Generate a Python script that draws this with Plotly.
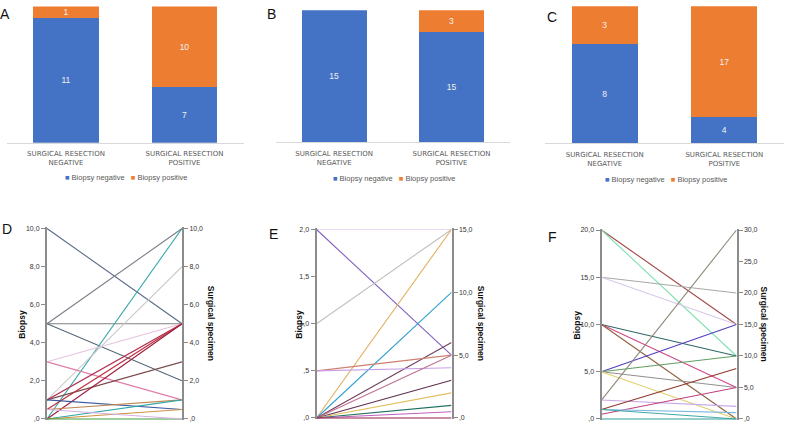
import plotly.graph_objects as go

# ---------------- data ----------------
categories = ["SURGICAL RESECTION<br>NEGATIVE", "SURGICAL RESECTION<br>POSITIVE"]
series_names = ["Biopsy negative", "Biopsy positive"]
series_colors = ["#4472C4", "#ED7D31"]

A_negative = [11, 7]
A_positive = [1, 10]
B_negative = [15, 15]
B_positive = [0, 3]
C_negative = [8, 4]
C_positive = [3, 17]

D_biopsy = [10, 5, 5, 5, 0, 1, 3, 3, 1, 1, 0.5, 0, 1, 0.5, 0, 0, 0, 0.5]
D_surgical = [5, 10, 5, 2, 10, 8, 5, 1, 3, 5, 5, 5, 0.5, 1, 1, 0.5, 0, 0]
D_colors = ["#5b6b8c", "#7d7d8a", "#808080", "#4c5e6e", "#3aa8a8", "#c8c8c8",
            "#e6c0dc", "#e07aa8", "#7a4a4a", "#b03050", "#c03040", "#a02040",
            "#3a5aa0", "#c08850", "#30a8a8", "#d09040", "#40a040", "#d8b0e0"]

E_biopsy = [2, 2, 1, 0, 0, 0, 0.5, 0.5, 0, 0, 0, 0, 0, 0]
E_surgical = [15, 5, 15, 15, 10, 6, 5, 4, 5, 3, 2, 1, 0.5, 0]
E_colors = ["#e8d8f0", "#8060c0", "#c0c0c0", "#e0b060", "#30a0d0", "#704060",
            "#d08070", "#c8a0e8", "#c07090", "#603050", "#e0c060", "#207060",
            "#c060c0", "#902040"]

F_biopsy = [20, 20, 15, 15, 10, 10, 10, 5, 5, 5, 5, 2, 2, 1, 0.5, 1, 1, 0]
F_surgical = [15, 10, 20, 15, 10, 5, 0, 15, 10, 5, 0, 30, 2, 8, 5, 1, 0, 0]
F_colors = ["#a04848", "#80e0b0", "#a8a8a8", "#d8c8e8", "#306868", "#d04888",
            "#906040", "#5040c0", "#60a060", "#909090", "#e0d070", "#908878",
            "#c8a8e8", "#903828", "#c04080", "#80b8e0", "#40a8a8", "#30a0a0"]

D_left_ticks = [0, 2, 4, 6, 8, 10]
D_left_text = [",0", "2,0", "4,0", "6,0", "8,0", "10,0"]
D_right_ticks = [0, 2, 4, 6, 8, 10]
D_right_text = [",0", "2,0", "4,0", "6,0", "8,0", "10,0"]
E_left_ticks = [0, 0.5, 1, 1.5, 2]
E_left_text = [",0", ",5", "1,0", "1,5", "2,0"]
E_right_ticks = [0, 5, 10, 15]
E_right_text = [",0", "5,0", "10,0", "15,0"]
F_left_ticks = [0, 5, 10, 15, 20]
F_left_text = [",0", "5,0", "10,0", "15,0", "20,0"]
F_right_ticks = [0, 5, 10, 15, 20, 25, 30]
F_right_text = [",0", "5,0", "10,0", "15,0", "20,0", "25,0", "30,0"]

panel_letters = ["A", "B", "C", "D", "E", "F"]
left_title = "Biopsy"
right_title = "Surgical specimen"

# ---------------- layout helpers ----------------
W, H = 789, 432


def px(x):
    return x / W


def py(y):
    return 1 - y / H


fig = go.Figure()

bar_panels = [
    (A_negative, A_positive, "x", "y", (6.75, 243.75), (4.5, 142.0)),
    (B_negative, B_positive, "x2", "y2", (275.5, 510.2), (8.3, 141.7)),
    (C_negative, C_positive, "x3", "y3", (544.9, 784.1), (4.3, 142.7)),
]
legend_pos = [(126, 177.5), (394, 178), (666, 179)]

layout = dict(
    width=W, height=H, margin=dict(l=0, r=0, t=0, b=0),
    paper_bgcolor="white", plot_bgcolor="white",
    barmode="stack", barnorm="fraction", bargap=0.445,
    showlegend=False,
    font=dict(family="Liberation Sans, Arial, sans-serif", color="#404040"),
)
annotations = []

for i, (neg, pos, xa, ya, xd, yd) in enumerate(bar_panels):
    for vals, name, col in zip([neg, pos], series_names, series_colors):
        fig.add_trace(go.Bar(
            x=categories, y=vals, name=name, marker=dict(color=col, line=dict(width=0)),
            text=[str(v) if v else "" for v in vals], textposition="inside",
            insidetextanchor="middle", textangle=0, constraintext="none",
            textfont=dict(color="#f2f2f2", size=8.5, family="Liberation Sans, Arial"),
            xaxis=xa, yaxis=ya, hoverinfo="skip"))
    xk = "xaxis" + ("" if i == 0 else str(i + 1))
    yk = "yaxis" + ("" if i == 0 else str(i + 1))
    layout[xk] = dict(domain=[px(xd[0]), px(xd[1])], anchor=ya, showline=True,
                      linecolor="#d9d9d9", linewidth=1, ticks="", showgrid=False,
                      ticklabelstandoff=4,
                      tickfont=dict(family="DejaVu Sans", size=7, color="#595959"))
    layout[yk] = dict(domain=[py(yd[1]), py(yd[0])], anchor=xa, range=[0, 1],
                      visible=False, showgrid=False, zeroline=False)
    lx, ly = legend_pos[i]
    leg_text = "   ".join(
        f"<span style='color:{c}'>■</span> {n}" for n, c in zip(series_names, series_colors))
    annotations.append(dict(text=leg_text, x=px(lx), y=py(ly), xref="paper", yref="paper",
                            showarrow=False, xanchor="center", yanchor="middle",
                            font=dict(size=7.5, color="#595959", family="Liberation Sans, Arial")))

line_panels = [
    (D_biopsy, D_surgical, D_colors, 10, 10, D_left_ticks, D_left_text, D_right_ticks, D_right_text,
     4, (47, 182), (227.5, 422), 22, 211),
    (E_biopsy, E_surgical, E_colors, 2, 15, E_left_ticks, E_left_text, E_right_ticks, E_right_text,
     5, (316.5, 451.5), (228.5, 421), 299, 481),
    (F_biopsy, F_surgical, F_colors, 20, 30, F_left_ticks, F_left_text, F_right_ticks, F_right_text,
     6, (601.5, 736.5), (229, 422), 577, 764),
]

yidx = 4
for (bio, sur, cols, lmax, rmax, lt, ltx, rt, rtx, xi, xd, yd, ltx_pos, rtx_pos) in line_panels:
    xa = f"x{xi}"
    yl = f"y{yidx}"
    yr = f"y{yidx + 1}"
    scale = lmax / rmax
    for b, s, c in zip(bio, sur, cols):
        fig.add_trace(go.Scatter(x=[0, 1], y=[b, s * scale], mode="lines",
                                 line=dict(color=c, width=1.1), xaxis=xa, yaxis=yl,
                                 hoverinfo="skip"))
    # surgical-specimen end points on the right axis (invisible, keeps that axis drawn)
    fig.add_trace(go.Scatter(x=[1] * len(sur), y=sur, mode="markers",
                             marker=dict(opacity=0, size=1), xaxis=xa, yaxis=yr,
                             hoverinfo="skip"))
    pad = 0.006
    axis_common = dict(showline=True, linecolor="#8c8c8c", linewidth=2, ticks="outside",
                       ticklen=4, tickwidth=1, tickcolor="#8c8c8c", showgrid=False,
                       zeroline=False, tickfont=dict(size=7, color="#333333",
                                                     family="Liberation Sans, Arial"))
    layout[f"xaxis{xi}"] = dict(domain=[px(xd[0]), px(xd[1])], anchor=yl, range=[0, 1],
                                visible=False)
    layout[f"yaxis{yidx}"] = dict(domain=[py(yd[1]), py(yd[0])], anchor=xa,
                                  range=[-pad * lmax, lmax * (1 + pad)], side="left",
                                  tickvals=lt, ticktext=ltx, **axis_common)
    layout[f"yaxis{yidx + 1}"] = dict(domain=[py(yd[1]), py(yd[0])], anchor=xa, overlaying=yl,
                                      range=[-pad * rmax, rmax * (1 + pad)], side="right",
                                      tickvals=rt, ticktext=rtx, **axis_common)
    ymid = (yd[0] + yd[1]) / 2 + 1
    annotations.append(dict(text=f"<b>{left_title}</b>", x=px(ltx_pos), y=py(ymid), xref="paper",
                            yref="paper", showarrow=False, textangle=-90,
                            xanchor="center", yanchor="middle",
                            font=dict(size=8.5, color="#111111", family="Liberation Sans, Arial")))
    annotations.append(dict(text=f"<b>{right_title}</b>", x=px(rtx_pos), y=py(ymid - 2), xref="paper",
                            yref="paper", showarrow=False, textangle=90,
                            xanchor="center", yanchor="middle",
                            font=dict(size=8.5, color="#111111", family="Liberation Sans, Arial")))
    yidx += 2

letter_pos = [(5, 12.5), (271.3, 12.2), (551.8, 15.5), (7.2, 229.5), (273.3, 234.5), (552.7, 236.7)]
for letter, (lx, ly) in zip(panel_letters, letter_pos):
    annotations.append(dict(text=letter, x=px(lx), y=py(ly), xref="paper", yref="paper",
                            showarrow=False, xanchor="center", yanchor="middle",
                            font=dict(size=14, color="#111111", family="Liberation Sans, Arial")))

layout["annotations"] = annotations
fig.update_layout(**layout)
fig.write_html("out.html", config={"displayModeBar": False, "staticPlot": True},
               post_script="document.body.style.margin='0';document.body.style.overflow='hidden';")
